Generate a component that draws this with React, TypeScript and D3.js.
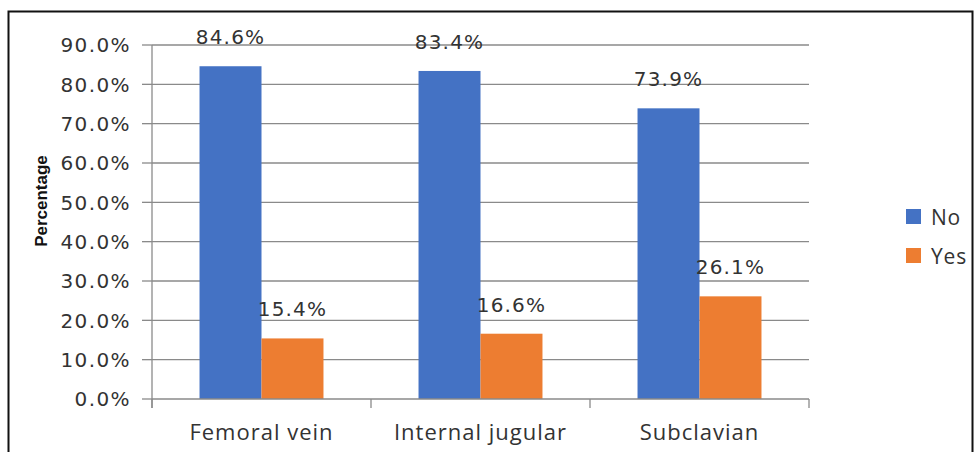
import React, { useEffect, useRef } from "react";
import * as d3 from "d3";

const categories = ["Femoral vein", "Internal jugular", "Subclavian"];
const seriesNames = ["No", "Yes"];
const noValues = [84.6, 83.4, 73.9];
const yesValues = [15.4, 16.6, 26.1];
const yTicks = [0, 10, 20, 30, 40, 50, 60, 70, 80, 90];
const colors = ["#4472C4", "#ED7D31"];

export default function App() {
  const ref = useRef<SVGSVGElement>(null);
  useEffect(() => {
    const svg = d3.select(ref.current);
    svg.selectAll("*").remove();
    const W = 974, H = 452;
    const left = 152, right = 809, top = 45, bottom = 399;
    svg.append("rect").attr("x", 8.5).attr("y", 11.5).attr("width", W - 10).attr("height", H).attr("fill", "white").attr("stroke", "#111").attr("stroke-width", 2);

    const x0 = d3.scaleBand().domain(categories).range([left, right]).paddingInner(0.434).paddingOuter(0.217);
    const x1 = d3.scaleBand().domain(seriesNames).range([0, x0.bandwidth()]);
    const y = d3.scaleLinear().domain([0, 90]).range([bottom, top]);
    const tickFont = "DejaVu Sans, Verdana, sans-serif";

    const g = svg.append("g");
    g.selectAll(".grid").data(yTicks.slice(1)).enter().append("line")
      .attr("x1", left).attr("x2", right).attr("y1", d => y(d)).attr("y2", d => y(d))
      .attr("stroke", "#8a8a8a").attr("stroke-width", 1.3);
    g.selectAll(".yt").data(yTicks).enter().append("line")
      .attr("x1", left - 10).attr("x2", left).attr("y1", d => y(d)).attr("y2", d => y(d))
      .attr("stroke", "#8a8a8a").attr("stroke-width", 1.3);
    g.selectAll(".yl").data(yTicks).enter().append("text")
      .attr("x", 131).attr("y", d => y(d)).attr("dy", "0.36em").attr("text-anchor", "end")
      .attr("font-family", tickFont).attr("font-size", 20).attr("letter-spacing", 1.4).attr("fill", "#333")
      .text(d => d.toFixed(1) + "%");
    g.append("line").attr("x1", left).attr("x2", left).attr("y1", top).attr("y2", bottom + 9)
      .attr("stroke", "#8a8a8a").attr("stroke-width", 1.3);

    const series = [noValues, yesValues];
    series.forEach((vals, si) => {
      g.selectAll(".b" + si).data(categories).enter().append("rect")
        .attr("x", (c) => (x0(c) as number) + (x1(seriesNames[si]) as number))
        .attr("width", x1.bandwidth())
        .attr("y", (c, i) => y(vals[i]))
        .attr("height", (c, i) => bottom - y(vals[i]))
        .attr("fill", colors[si]);
      g.selectAll(".l" + si).data(categories).enter().append("text")
        .attr("x", (c) => (x0(c) as number) + (x1(seriesNames[si]) as number) + x1.bandwidth() / 2)
        .attr("y", (c, i) => y(vals[i]) - 22)
        .attr("text-anchor", "middle")
        .attr("font-family", tickFont).attr("font-size", 20).attr("letter-spacing", 1.2).attr("fill", "#333")
        .text((c, i) => vals[i].toFixed(1) + "%");
    });

    g.append("line").attr("x1", left).attr("x2", right).attr("y1", bottom).attr("y2", bottom)
      .attr("stroke", "#8a8a8a").attr("stroke-width", 1.3);
    const bounds = [left, ...categories.map(c => (x0(c) as number) + x0.bandwidth() + x0.step() * 0.217)];
    g.selectAll(".xt").data(bounds).enter().append("line")
      .attr("x1", d => d).attr("x2", d => d).attr("y1", bottom).attr("y2", bottom + 9)
      .attr("stroke", "#8a8a8a").attr("stroke-width", 1.3);
    g.selectAll(".xl").data(categories).enter().append("text")
      .attr("x", c => (x0(c) as number) + x0.bandwidth() / 2).attr("y", 440)
      .attr("text-anchor", "middle").attr("font-family", "Open Sans, sans-serif").attr("font-size", 22)
      .attr("letter-spacing", 1).attr("fill", "#333").text(c => c);

    svg.append("text").attr("transform", "translate(47,201) rotate(-90)")
      .attr("text-anchor", "middle").attr("font-family", "Liberation Sans, Arial, sans-serif")
      .attr("font-weight", "bold").attr("font-size", 17).attr("fill", "#111").text("Percentage");

    const lg = svg.append("g");
    seriesNames.forEach((s, i) => {
      lg.append("rect").attr("x", 906).attr("y", 209 + i * 39).attr("width", 15).attr("height", 15).attr("fill", colors[i]);
      lg.append("text").attr("x", 931).attr("y", 217 + i * 39).attr("dy", "0.36em")
        .attr("font-family", "Open Sans, sans-serif").attr("font-size", 21).attr("letter-spacing", 0.8).attr("fill", "#333").text(s);
    });
  }, []);
  return <svg ref={ref} width={974} height={452} style={{ position: "absolute", left: 0, top: 0 }} />;
}
